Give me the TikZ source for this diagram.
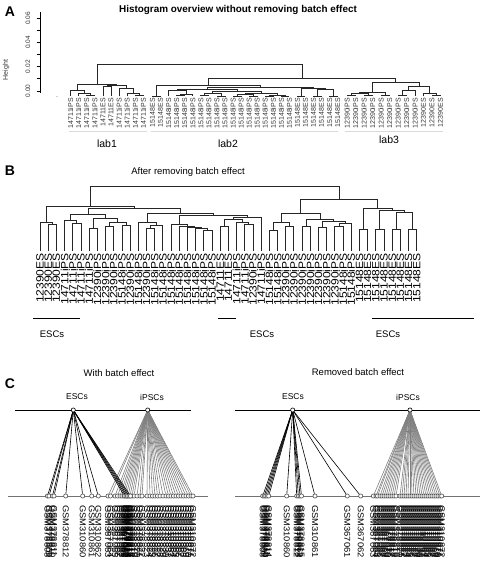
\documentclass[tikz,border=0pt]{standalone}
\usepackage{fontspec}
\setmainfont{Liberation Sans}
\usetikzlibrary{calc}
\tikzset{
  dline/.style={line width=0.8pt, black!85},
  alab/.style={font=\fontsize{7}{7}\selectfont, inner sep=0pt, text=black!80},
  blab/.style={font=\fontsize{10.5}{10.5}\selectfont, inner sep=0pt},
  glab/.style={font=\fontsize{8.5}{8.5}\selectfont, inner sep=0pt},
  panel/.style={font=\fontsize{14}{14}\selectfont\bfseries, inner sep=0pt},
  ttl/.style={font=\fontsize{9.5}{9.5}\selectfont, inner sep=0pt},
  topdot/.style={circle, draw=black, fill=white, line width=0.6pt, minimum size=4.2pt, inner sep=0pt},
  botdot/.style={circle, draw=black!70, fill=white, line width=0.6pt, minimum size=4.2pt, inner sep=0pt},
  eline/.style={line width=0.6pt, black},
  iline/.style={line width=0.6pt, black!50},
}
\newcommand\mg[4]{\draw[dline] (#2) -- (#2 |- 0,#4) -- (#3 |- 0,#4) -- (#3);
  \coordinate (#1) at ($(#2 |- 0,#4)!0.5!(#3 |- 0,#4)$);}
\begin{document}
\begin{tikzpicture}[x=1pt,y=-1pt]
\useasboundingbox (0,0) rectangle (480,561);
% ---------------- Panel A ----------------
\node[panel] (pA) at (10,12) {A};
\node[ttl, font=\fontsize{9.9}{9.9}\selectfont\bfseries] (tA) at (238,10) {Histogram overview without removing batch effect};
\draw[line width=0.6pt] (40,11.7) coordinate (ax1) -- (40,93.3) coordinate (ax2);
\foreach \y in {18.3,30.4,42.5,54.6,66.7,78.8,90.9} \draw[line width=0.6pt] (36.5,\y) -- (40,\y);
\foreach \y/\t in {18.3/0.06,42.5/0.04,66.7/0.02,90.9/0.00}
  \node[alab, rotate=90, font=\fontsize{6.5}{6.5}\selectfont] at (28,\y) {\t};
\node[alab, rotate=90, font=\fontsize{7}{7}\selectfont] (hgt) at (6,70) {Height};
\fill[black!60] (57,96.5) circle (0.5pt);
% leaves lab1
\foreach \i/\t in {0/14711iPS,1/14711iPS,2/14711iPS,3/14711iPS,4/14711ES,5/14711ES,6/14711iPS,7/14711iPS,8/14711iPS,9/14711iPS}{
  \coordinate (L\i) at ({70.5+8.1*\i},96.5);
  \node[alab, rotate=90, anchor=east] at ({70.5+8.1*\i},98) {\t};}
\foreach \i/\t in {0/15148ES,1/15148ES,2/15148iPS,3/15148iPS,4/15148iPS,5/15148iPS,6/15148iPS,7/15148iPS,8/15148iPS,9/15148iPS,10/15148iPS,11/15148iPS,12/15148iPS,13/15148iPS,14/15148iPS,15/15148iPS,16/15148iPS,17/15148iPS,18/15148ES,19/15148ES,20/15148ES,21/15148ES,22/15148ES,23/15148ES}{
  \coordinate (M\i) at ({152.5+8.05*\i},96.5);
  \node[alab, rotate=90, anchor=east] at ({152.5+8.05*\i},98) {\t};}
\foreach \i/\t in {0/12390iPS,1/12390iPS,2/12390iPS,3/12390iPS,4/12390iPS,5/12390iPS,6/12390iPS,7/12390iPS,8/12390iPS,9/12390ES,10/12390ES,11/12390ES}{
  \coordinate (N\i) at ({347+8.5*\i},96.5);
  \node[alab, rotate=90, anchor=east] at ({347+8.5*\i},98) {\t};}
% tree lab1
\mg{l23}{L2}{L3}{95}
\mg{l123}{L1}{l23}{93}
\mg{la}{L0}{l123}{90}
\mg{l45}{L4}{L5}{86}
\mg{l89}{L8}{L9}{95}
\mg{l789}{L7}{l89}{93.5}
\mg{l6789}{L6}{l789}{88}
\mg{lb}{l45}{l6789}{85}
\mg{lab1}{la}{lb}{84}
% tree lab2
\mg{m01}{M0}{M1}{96}
\mg{g1}{M3}{M4}{95.5}
\mg{g2}{g1}{M5}{94}
\mg{g3}{M2}{g2}{90}
\mg{g4}{M6}{M7}{95.5}
\mg{g5}{M8}{M9}{96}
\mg{g6}{g4}{g5}{93}
\mg{g7}{M10}{M11}{96}
\mg{g8}{M12}{M13}{96}
\mg{g9}{g7}{g8}{94.5}
\mg{g10}{M14}{M15}{96}
\mg{g11}{M16}{M17}{96.5}
\mg{g12}{g10}{g11}{95}
\mg{g13}{g9}{g12}{93.5}
\mg{g14}{g6}{g13}{91.5}
\mg{ips2}{g3}{g14}{89}
\mg{e1}{M18}{M19}{96.5}
\mg{e2}{M20}{M21}{96}
\mg{e3}{M22}{M23}{96}
\mg{e4}{e2}{e3}{89.5}
\mg{es2}{e1}{e4}{88}
\mg{sub2}{ips2}{es2}{87}
\mg{lab2}{m01}{sub2}{85}
% tree lab3
\mg{h1}{N0}{N1}{95.5}
\mg{h2}{N2}{N3}{95}
\mg{h3}{h1}{h2}{93.5}
\mg{h4}{N4}{N5}{95.5}
\mg{h5}{h3}{h4}{92}
\mg{h6}{N6}{N7}{95}
\mg{h7}{h6}{N8}{90}
\mg{h8}{N10}{N11}{95}
\mg{h9}{N9}{h8}{93}
\mg{h10}{h7}{h9}{86.7}
\mg{lab3}{h5}{h10}{82.7}
\mg{Rt}{lab2}{lab3}{78}
\mg{rootA}{lab1}{Rt}{64}
% group lines and names
\draw[black!15, line width=0.6pt] (69,131) -- (147,131) (151,131) -- (338,131) (345,131) -- (443,131);
\node[ttl, font=\fontsize{10.5}{10.5}\selectfont] (n1) at (107,144) {lab1};
\node[ttl, font=\fontsize{10.5}{10.5}\selectfont] (n2) at (228,144) {lab2};
\node[ttl, font=\fontsize{10.5}{10.5}\selectfont] (n3) at (389,140) {lab3};
% ---------------- Panel B ----------------
\node[panel] (pB) at (10,171) {B};
\node[ttl] (tB) at (188,172) {After removing batch effect};
\foreach \i/\t in {0/12390ES,1/12390ES,2/12390ES,3/14711iPS,4/14711iPS,5/14711iPS,6/14711iPS,7/12390iPS,8/12390iPS,9/12390iPS,10/15148iPS,11/12390iPS,12/15148iPS,13/12390iPS,14/15148iPS,15/15148iPS,16/15148iPS,17/15148iPS,18/15148iPS,19/15148iPS,20/15148iPS,21/15148iPS,22/14711ES,23/14711ES,24/14711iPS,25/14711iPS,26/12390iPS,27/14711iPS,28/15148iPS,29/15148iPS,30/12390iPS,31/12390iPS,32/12390iPS,33/12390iPS,34/12390iPS,35/12390iPS,36/12390iPS,37/15148iPS,38/15148iPS,39/15148ES,40/15148ES,41/15148ES,42/15148ES,43/15148ES,44/15148ES,45/15148ES,46/15148ES}{
  \coordinate (b\i) at ({40+8.19*\i},251);
  \node[blab, rotate=90, anchor=east] at ({40+8.19*\i},253) {\scalebox{1.15}[1]{\t}};}
\mg{B12}{b1}{b2}{224}
\mg{G1}{b0}{B12}{222}
\mg{B45}{b4}{b5}{223}
\mg{G2}{b3}{B45}{220}
\mg{B67}{b6}{b7}{228}
\mg{B89}{b8}{b9}{226}
\mg{B1011}{b10}{b11}{225}
\mg{B811}{B89}{B1011}{222}
\mg{G3}{B67}{B811}{218}
\mg{G23}{G2}{G3}{214}
\mg{B1314}{b13}{b14}{228}
\mg{B1315}{B1314}{b15}{225}
\mg{G4}{b12}{B1315}{222}
\mg{C1}{b20}{b21}{230}
\mg{C2}{b19}{C1}{228.5}
\mg{C3}{b18}{C2}{227}
\mg{C4}{b17}{C3}{226}
\mg{H1}{b16}{C4}{224.5}
\mg{B2223}{b22}{b23}{226}
\mg{B2526}{b25}{b26}{224}
\mg{B2426}{b24}{B2526}{222}
\mg{B2226}{B2223}{B2426}{219}
\mg{H2}{B2226}{b27}{217}
\mg{H}{H1}{H2}{215}
\mg{G5}{G4}{H}{213.3}
\mg{rest}{G23}{G5}{208.3}
\mg{NL}{G1}{rest}{206.7}
\mg{R1}{b28}{b29}{230}
\mg{R2}{b30}{b31}{226}
\mg{R3}{R1}{R2}{222.7}
\mg{R4}{b32}{b33}{226}
\mg{R5}{b34}{b35}{227}
\mg{R6}{b36}{b37}{226}
\mg{R7}{R6}{b38}{223}
\mg{R8}{R5}{R7}{221.5}
\mg{R9}{R4}{R8}{219.5}
\mg{R10}{R3}{R9}{213.3}
\mg{E1}{b39}{b40}{229}
\mg{E2}{b41}{b42}{229}
\mg{E3}{b43}{b44}{229}
\mg{E4}{b45}{b46}{229}
\mg{E5}{E3}{E4}{212.7}
\mg{E6}{E2}{E5}{210}
\mg{E7}{E1}{E6}{208.3}
\mg{NR}{R10}{E7}{199.3}
\mg{rootB}{NL}{NR}{186.7}
\draw[line width=0.8pt] (33,318) coordinate (u1a) -- (80,318) coordinate (u1b);
\draw[line width=0.8pt] (218,318) coordinate (u2a) -- (236,318) coordinate (u2b);
\draw[line width=0.8pt] (372,318) coordinate (u3a) -- (474,318) coordinate (u3b);
\node[ttl] (es1) at (52,334) {ESCs};
\node[ttl] (es2) at (262,334) {ESCs};
\node[ttl] (es3) at (388,334) {ESCs};
% ---------------- Panel C ----------------
\node[panel] (pC) at (10,384) {C};
\node[ttl] (tC1) at (119,373) {With batch effect};
\node[ttl] (tC2) at (358,372) {Removed batch effect};
\draw[line width=0.8pt] (15,410) -- (191,410);
\draw[line width=0.8pt] (235,410) -- (480,410);
\draw[line width=0.9pt, black!55] (8,496) -- (208,496);
\draw[line width=0.9pt, black!55] (235,496) -- (480,496);
\node[ttl, font=\fontsize{8.5}{8.5}\selectfont] at (77,397) {ESCs};
\node[ttl, font=\fontsize{8.5}{8.5}\selectfont] at (152,397) {iPSCs};
\node[ttl, font=\fontsize{8.5}{8.5}\selectfont] at (293,397) {ESCs};
\node[ttl, font=\fontsize{8.5}{8.5}\selectfont] at (408,397) {iPSCs};
\coordinate (ESl) at (73.3,410);
\coordinate (IPl) at (147.7,410);
\coordinate (ESr) at (292.7,410);
\coordinate (IPr) at (410,410);
% left: iPS
\foreach \x/\t [count=\i] in {108/GSM367063,110.5/GSM367064,115/GSM367065,117.5/GSM367066,120/GSM367067,122/GSM367068,124/GSM367069,126/GSM367070,128/GSM378816,130/GSM378817,132/GSM378818,134/GSM378819,137/GSM378820,140/GSM378821,142/GSM378822,147/GSM378823,150/GSM378824,152.5/GSM378825,155/GSM378826,157.5/GSM378827,160/GSM378828,163/GSM378829,166/GSM378830,168.5/GSM378831,171/GSM310863,173.5/GSM310864,176/GSM310865,178.5/GSM310866,181/GSM310867,183.5/GSM310868,186/GSM310869,188.5/GSM310870,191/GSM310871,193/GSM310872}{
  \node[botdot] (li\i) at (\x,496) {};
  \draw[iline] (IPl) -- (li\i);
  \node[glab, rotate=-90, anchor=west] at (\x,505) {\scalebox{1.1}[1]{\t}};}
\foreach \x/\t [count=\i] in {47.5/GSM378808,49/GSM378809,52.5/GSM378810,54/GSM378811,65.7/GSM378812,82.7/GSM310860,91.7/GSM310861,98.3/GSM310862,124.5/GSM367061,126/GSM367062,127.5/GSM378813,129/GSM378814,130.5/GSM378815}{
  \node[botdot] (le\i) at (\x,496) {};
  \draw[eline] (ESl) -- (le\i);
  \node[glab, rotate=-90, anchor=west] at (\x,505) {\scalebox{1.1}[1]{\t}};}
% right: iPS
\foreach \x/\t [count=\i] in {373.3/GSM367063,376/GSM367064,377.5/GSM367065,380/GSM367066,382/GSM367067,384/GSM367068,386/GSM367069,388/GSM367070,390/GSM378816,392/GSM378817,394/GSM378818,396/GSM378819,400/GSM378820,402/GSM378821,404/GSM378822,406/GSM378823,408/GSM378824,410/GSM378825,412/GSM378826,414/GSM378827,416/GSM378828,418/GSM378829,420/GSM378830,422/GSM378831,424/GSM310863,426/GSM310864,428/GSM310865,430/GSM310866,432/GSM310867,434/GSM310868,436/GSM310869,438/GSM310870,440/GSM310871,441.7/GSM310872}{
  \node[botdot] (ri\i) at (\x,496) {};
  \draw[iline] (IPr) -- (ri\i);
  \node[glab, rotate=-90, anchor=west] at (\x,505) {\scalebox{1.1}[1]{\t}};}
\foreach \x/\t [count=\i] in {262.7/GSM378808,264.2/GSM378809,265.7/GSM378810,267.2/GSM378811,268.7/GSM378814,286.7/GSM310860,296.7/GSM378812,298.3/GSM378813,300/GSM310862,301.5/GSM378815,315/GSM310861,347.3/GSM367061,360.7/GSM367062}{
  \node[botdot] (re\i) at (\x,496) {};
  \draw[eline] (ESr) -- (re\i);
  \node[glab, rotate=-90, anchor=west] at (\x,505) {\scalebox{1.1}[1]{\t}};}
\node[topdot] (ESCl) at (ESl) {};
\node[topdot] (iPSl) at (IPl) {};
\node[topdot] (ESCr) at (ESr) {};
\node[topdot] (iPSr) at (IPr) {};
\end{tikzpicture}
\end{document}
